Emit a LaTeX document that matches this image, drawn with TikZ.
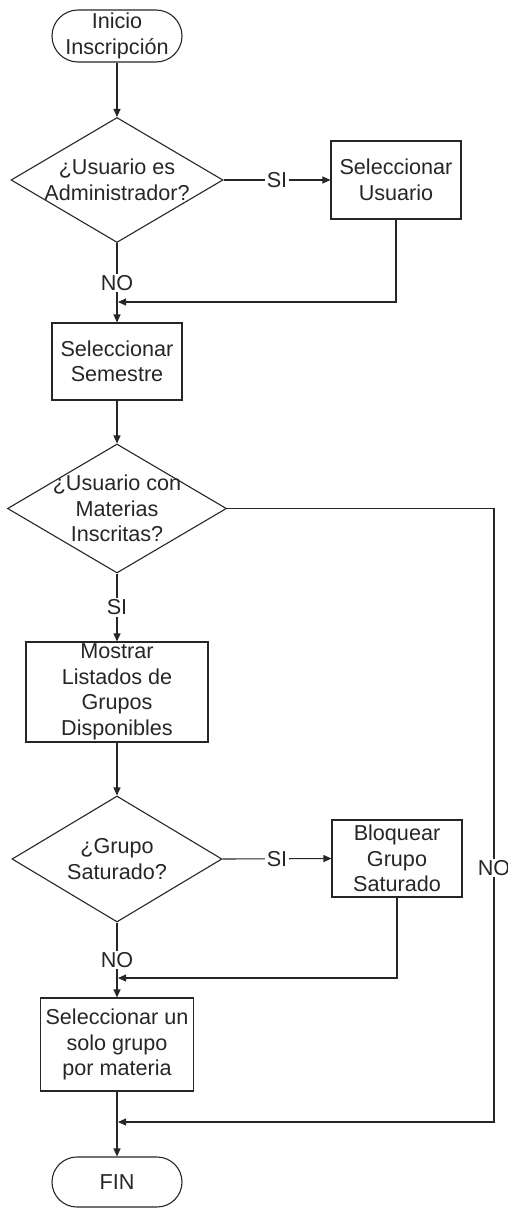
\documentclass[tikz,border=0pt]{standalone}
\usepackage{fontspec}
\setmainfont{Liberation Sans}
\usetikzlibrary{shapes.geometric,arrows.meta}
\begin{document}
\begin{tikzpicture}[x=1pt,y=-1pt,
  every node/.style={font=\fontsize{21.6pt}{25.5pt}\selectfont, text=black!85},
  flow/.style={line width=1.1pt, draw=black!85},
  arr/.style={flow, -{Triangle[length=8pt,width=7pt]}},
  terminal/.style={draw=black!85, line width=1.1pt, rectangle, minimum width=130pt, inner sep=0pt, align=center},
  process/.style={draw=black!85, line width=1.1pt, rectangle, inner sep=0pt, align=center},
  decision/.style={draw=black!85, line width=1.1pt, diamond, inner sep=0pt},
  dtext/.style={align=center, inner sep=0pt},
  lbl/.style={fill=white, inner sep=1.5pt}
]
\useasboundingbox (0,0) rectangle (508,1208);

% nodes of the main column
\node[terminal, minimum height=52pt, rounded corners=26pt] (start) at (117,36) {Inicio\\Inscripción};
\node[decision, minimum width=212pt, minimum height=125pt,
      label={[dtext]center:{¿Usuario es\\Administrador?}}] (d1) at (117,180) {};
\node[process, minimum width=130pt, minimum height=78pt] (usr) at (396,180) {Seleccionar\\Usuario};
\node[process, minimum width=130pt, minimum height=77pt] (sem) at (117,361.5) {Seleccionar\\Semestre};
\node[decision, minimum width=219pt, minimum height=129pt,
      label={[dtext]center:{¿Usuario con\\Materias\\Inscritas?}}] (d2) at (117,508.5) {};
\node[process, minimum width=182pt, minimum height=100pt] (mos) at (117,692) {Mostrar\\Listados de\\Grupos\\Disponibles};
\node[decision, minimum width=210pt, minimum height=126pt,
      label={[dtext]center:{¿Grupo\\Saturado?}}] (d3) at (117,859) {};
\node[process, minimum width=130pt, minimum height=77pt] (blq) at (397,858.5) {Bloquear\\Grupo\\Saturado};
\node[process, minimum width=153pt, minimum height=93pt] (sel) at (117,1044.5) {Seleccionar un\\solo grupo\\por materia};
\node[terminal, minimum height=50pt, rounded corners=25pt] (fin) at (117,1182) {FIN};

% junction points
\coordinate (m1) at (118,302);
\coordinate (m2) at (118,978);
\coordinate (m3) at (118,1122);
\coordinate (c2) at (494,1122);

% connectors
\draw[arr] (start) -- (d1);
\draw[arr] (d1.east) -- node[lbl, midway] {SI} (usr.west);
\draw[arr] (d1.south) -- node[lbl, midway] {NO} (sem.north);
\draw[arr] (usr.south) |- (m1);
\draw[arr] (sem) -- (d2);
\draw[arr] (d2.east) -| node[lbl, pos=0.793] {NO} (c2) -- (m3);
\draw[arr] (d2.south) -- node[lbl, midway] {SI} (mos.north);
\draw[arr] (mos) -- (d3);
\draw[arr] (d3.east) -- node[lbl, midway] {SI} (blq.west);
\draw[arr] (d3.south) -- node[lbl, midway] {NO} (sel.north);
\draw[arr] (blq.south) |- (m2);
\draw[arr] (sel) -- (fin);
\end{tikzpicture}
\end{document}
